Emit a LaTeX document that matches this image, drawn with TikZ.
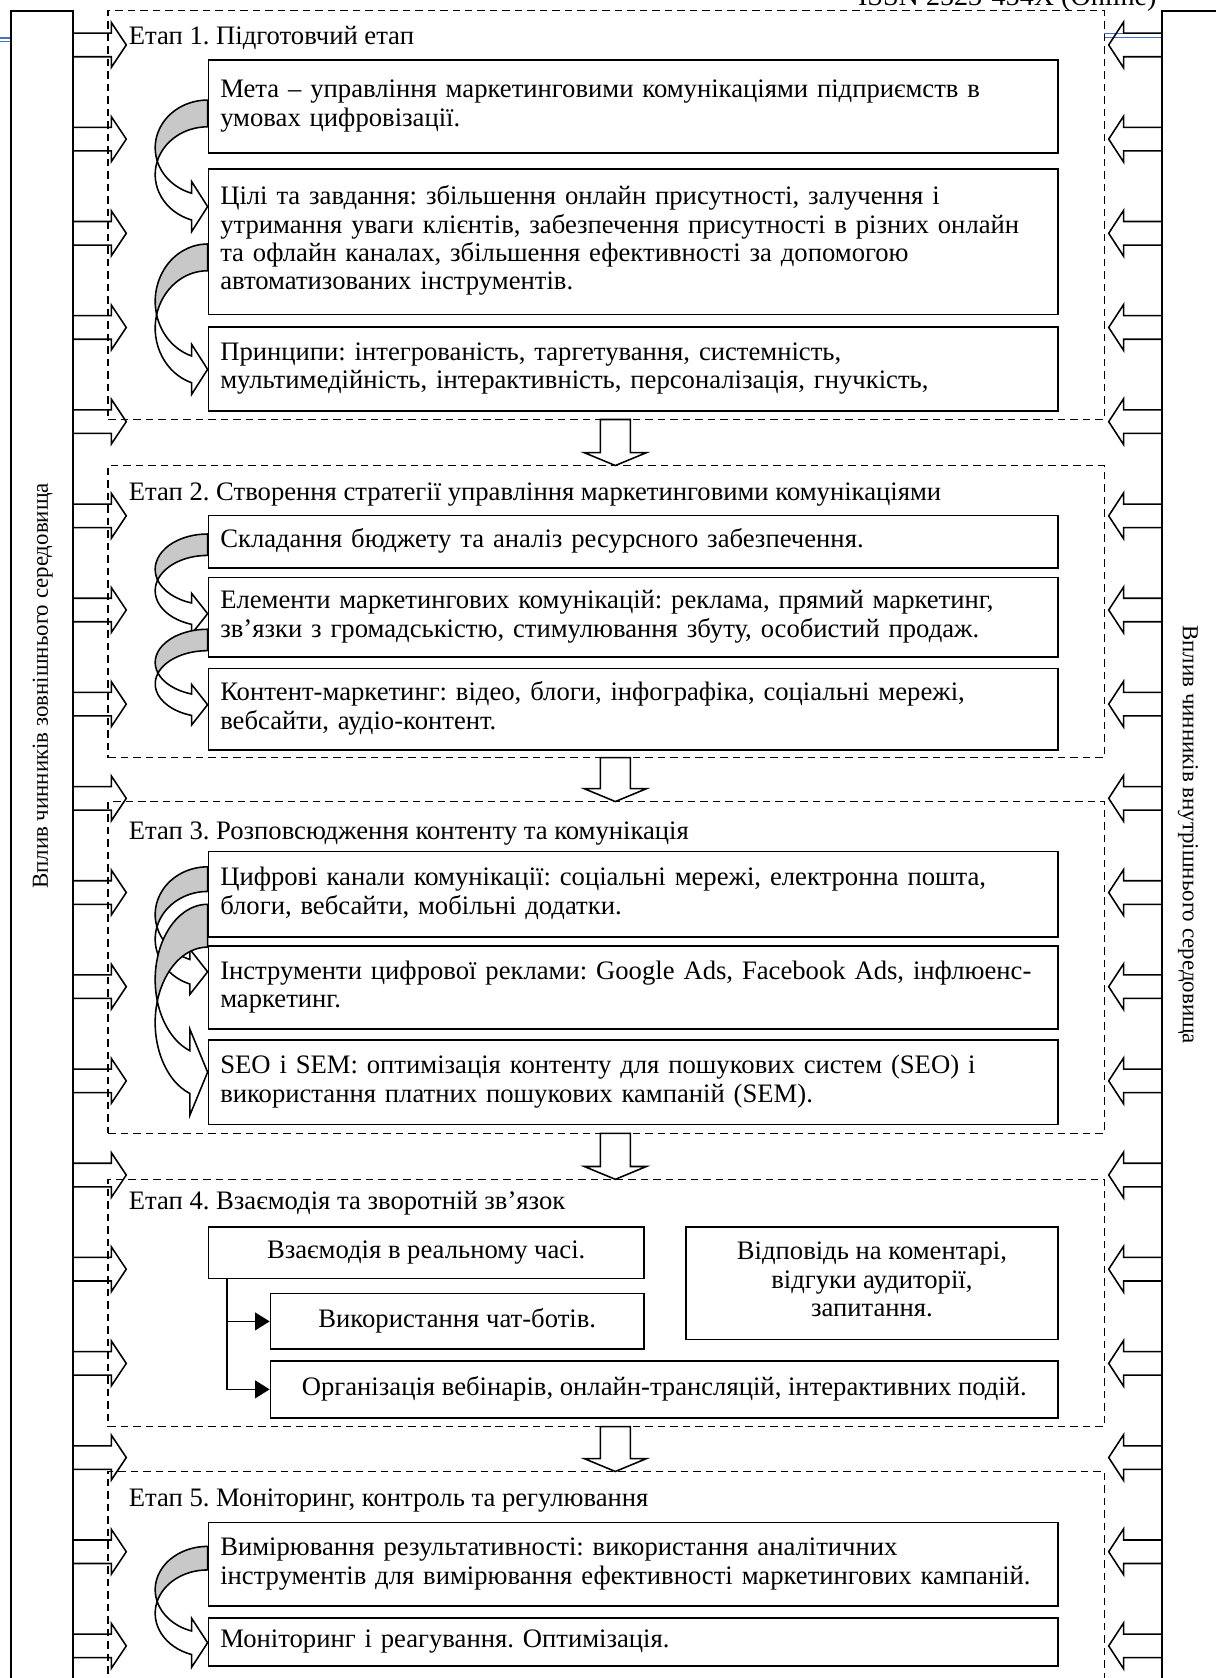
\documentclass[tikz,border=0pt]{standalone}
\usepackage{fontspec}
\setmainfont{Liberation Serif}
\usetikzlibrary{arrows.meta,calc,fit}
\definecolor{hdrblue}{RGB}{68,114,196}
\definecolor{bandgray}{RGB}{200,200,200}
\frenchspacing

\tikzset{
  outerbox/.style={draw, line width=0.8pt, fill=white, inner sep=0pt},
  stagebox/.style={draw, line width=0.6pt, dash pattern=on 3.6pt off 2.4pt, inner sep=0pt},
  ibox/.style={draw, line width=0.8pt, fill=white, inner sep=0pt, anchor=north west,
    minimum width=407.95pt, text width=396.6pt, align=left,
    execute at begin node=\strut, execute at end node=\strut},
  cbox/.style={draw, line width=0.8pt, fill=white, inner sep=0pt, anchor=north west, align=center,
    execute at begin node=\strut, execute at end node=\strut},
  stitle/.style={anchor=base west, inner sep=0pt},
  sidearrow/.style={draw, line width=0.75pt, line join=miter},
  downarrow/.style={draw, line width=0.75pt, fill=white},
  cback/.style={draw, line width=0.75pt, fill=bandgray},
  cfront/.style={draw, line width=0.75pt, fill=white},
  conn/.style={draw, line width=0.8pt, -{Triangle[length=7pt,width=8.5pt]}},
  hdr/.style={draw=hdrblue, line width=0.6pt},
  vtext/.style={inner sep=0pt, font=\fontsize{11}{13}\selectfont},
}

% #1 xr, #2 top of outer ellipse, #3 rx, #4 ry, #5 band thickness, #6 head length, #7 head overhang
\newcommand\curvarrow[7]{%
  \pgfmathsetmacro\crvca{#2+#4}%
  \pgfmathsetmacro\crvcb{\crvca+#5}%
  \pgfmathsetmacro\crvai{asin(#5/(2*#4))}%
  \pgfmathsetmacro\crvphi{180-\crvai}%
  \pgfmathsetmacro\crvpsi{180+\crvai}%
  \pgfmathsetmacro\crvan{acos(-#6/#3)}%
  \pgfmathsetmacro\crvxn{#1-#6}%
  \pgfmathsetmacro\crvya{\crvca+#4*sin(\crvan)}%
  \pgfmathsetmacro\crvyb{\crvcb+#4*sin(\crvan)}%
  \pgfmathsetmacro\crvyt{(\crvya+\crvyb)/2}%
  \pgfmathsetmacro\crvxi{#1+#3*cos(\crvphi)}%
  \pgfmathsetmacro\crvyi{\crvca+#4*sin(\crvphi)}%
  \filldraw[cback] (#1,#2) arc[start angle=270,end angle=\crvphi,x radius=#3,y radius=#4]
     arc[start angle=\crvpsi,end angle=270,x radius=#3,y radius=#4] -- cycle;
  \filldraw[cfront] (\crvxi,\crvyi) arc[start angle=\crvpsi,end angle=\crvan,x radius=#3,y radius=#4]
     -- (\crvxn,\crvyb+#7) -- (#1,\crvyt) -- (\crvxn,\crvya-#7) -- (\crvxn,\crvya)
     arc[start angle=\crvan,end angle=\crvphi,x radius=#3,y radius=#4] -- cycle;
}

\begin{document}
\begin{tikzpicture}[x=0.51379pt, y=-0.51379pt,
  every node/.append style={font=\fontsize{12.8}{13.6}\selectfont}]
\useasboundingbox (0,0) rectangle (1136,1568);

% page header remnants
\node[anchor=base east, inner sep=0pt, font=\fontsize{13.5}{15}\selectfont] (issn) at (1081,5.5) {ISSN 2523-454X (Online)};
\draw[hdr] (0,35.5) -- (10,35.5);
\draw[hdr] (0,38.8) -- (10,38.8);
\draw[hdr] (1032,31.5) -- (1086,31.5);
\draw[hdr] (1032,35) -- (1086,35);

% outer side bars
\node[outerbox, fit={(10,10)(68,1620)}] (OL) {};
\node[outerbox, fit={(1086,10)(1150,1620)}] (OR) {};
\node[vtext, rotate=90] (TL) at (40,641) {Вплив чинників зовнішнього середовища};
\node[vtext, rotate=-90] (TR) at (1110,780) {Вплив чинників внутрішнього середовища};

% stages
\node[stagebox, fit={(101,10)(1032,392)}] (S1) {};
\node[stagebox, fit={(101,435)(1032,708)}] (S2) {};
\node[stagebox, fit={(101,749)(1032,1059)}] (S3) {};
\node[stagebox, fit={(101,1102)(1032,1333)}] (S4) {};
\node[stagebox, fit={(101,1375)(1032,1620)}] (S5) {};

% side block arrows
\foreach \k in {0,...,17}{
  \pgfmathsetmacro\ay{42+88*\k}
  \draw[sidearrow] (68,\ay-11) -- (104,\ay-11) -- (104,\ay-21) -- (118,\ay) -- (104,\ay+21) -- (104,\ay+11) -- (68,\ay+11);
  \draw[sidearrow] (1086,\ay-11) -- (1050,\ay-11) -- (1050,\ay-21.5) -- (1036,\ay) -- (1050,\ay+21.5) -- (1050,\ay+11) -- (1086,\ay+11);
}

% down block arrows between stages
\foreach \yb/\ye in {392/435, 708/749, 1059/1102, 1333/1375}{
  \draw[downarrow] (561,\yb) -- (589,\yb) -- (589,\ye-12) -- (604,\ye-12) -- (575,\ye) -- (546,\ye-12) -- (561,\ye-12) -- cycle;
}

% stage titles
\node[stitle] (T1) at (120,42) {Етап 1. Підготовчий етап};
\node[stitle] (T2) at (120,468) {Етап 2. Створення стратегії управління маркетинговими комунікаціями};
\node[stitle] (T3) at (120,784) {Етап 3. Розповсюдження контенту та комунікація};
\node[stitle] (T4) at (120,1130) {Етап 4. Взаємодія та зворотній зв’язок};
\node[stitle] (T5) at (120,1408) {Етап 5. Моніторинг, контроль та регулювання};

% stage 1
\node[ibox, minimum height=44.70pt] (A) at (194,55) {Мета – управління маркетинговими комунікаціями підприємств в\\умовах цифровізації.};
\node[ibox, minimum height=69.88pt] (B) at (194,157) {Цілі та завдання: збільшення онлайн присутності, залучення і\\утримання уваги клієнтів, забезпечення присутності в різних онлайн\\та офлайн каналах, збільшення ефективності за допомогою\\автоматизованих інструментів.};
\node[ibox, minimum height=40.08pt] (C) at (194,305) {Принципи: інтегрованість, таргетування, системність,\\мультимедійність, інтерактивність, персоналізація, гнучкість,};

% stage 2
\node[ibox, minimum height=25.18pt] (D) at (194,481) {Складання бюджету та аналіз ресурсного забезпечення.};
\node[ibox, minimum height=38.02pt] (E) at (194,539) {Елементи маркетингових комунікацій: реклама, прямий маркетинг,\\зв’язки з громадськістю, стимулювання збуту, особистий продаж.};
\node[ibox, minimum height=39.05pt] (F) at (194,624) {Контент-маркетинг: відео, блоги, інфографіка, соціальні мережі,\\вебсайти, аудіо-контент.};

% stage 3
\node[ibox, minimum height=41.10pt] (G1) at (194,795) {Цифрові канали комунікації: соціальні мережі, електронна пошта,\\блоги, вебсайти, мобільні додатки.};
\node[ibox, minimum height=40.08pt] (G2) at (194,883) {Інструменти цифрової реклами: Google Ads, Facebook Ads, інфлюенс-\\маркетинг.};
\node[ibox, minimum height=40.59pt] (G3) at (194,971) {SEO і SEM: оптимізація контенту для пошукових систем (SEO) і\\використання платних пошукових кампаній (SEM).};

% stage 4
\node[cbox, minimum width=209.11pt, minimum height=24.66pt] (H1) at (194,1146) {Взаємодія в реальному часі.};
\node[cbox, minimum width=179.31pt, minimum height=26.72pt] (H2) at (252,1208) {Використання чат-ботів.};
\node[cbox, minimum width=378.15pt, minimum height=27.23pt] (H3) at (252,1271) {Організація вебінарів, онлайн-трансляцій, інтерактивних подій.};
\node[cbox, minimum width=178.80pt, minimum height=53.95pt] (H4) at (640,1146) {Відповідь на коментарі,\\відгуки аудиторії,\\запитання.};

% stage 5
\node[ibox, minimum height=40.08pt] (I1) at (194,1422) {Вимірювання результативності: використання аналітичних\\інструментів для вимірювання ефективності маркетингових кампаній.};
\node[ibox, minimum height=23.12pt] (I2) at (194,1511) {Моніторинг і реагування. Оптимізація.};

% curved arrows
\curvarrow{194}{93.5}{49}{44.6}{25}{15}{11}
\curvarrow{194}{228}{49}{53.6}{25}{15}{11}
\curvarrow{194}{499}{49}{33}{20}{15}{9}
\curvarrow{194}{588}{49}{31}{20}{15}{9}
\curvarrow{194}{810}{49}{44.6}{23}{16.5}{9.5}
\curvarrow{194}{845}{49}{70.5}{40}{16.5}{20}
\curvarrow{194}{1445}{49}{40.5}{22}{15}{12}

% stage 4 connectors
\coordinate (hj) at ($(H1.south west)+(18,0)$);
\draw[conn] (hj) |- (H2.west);
\draw[conn] (hj) |- (H3.west);

\end{tikzpicture}
\end{document}
